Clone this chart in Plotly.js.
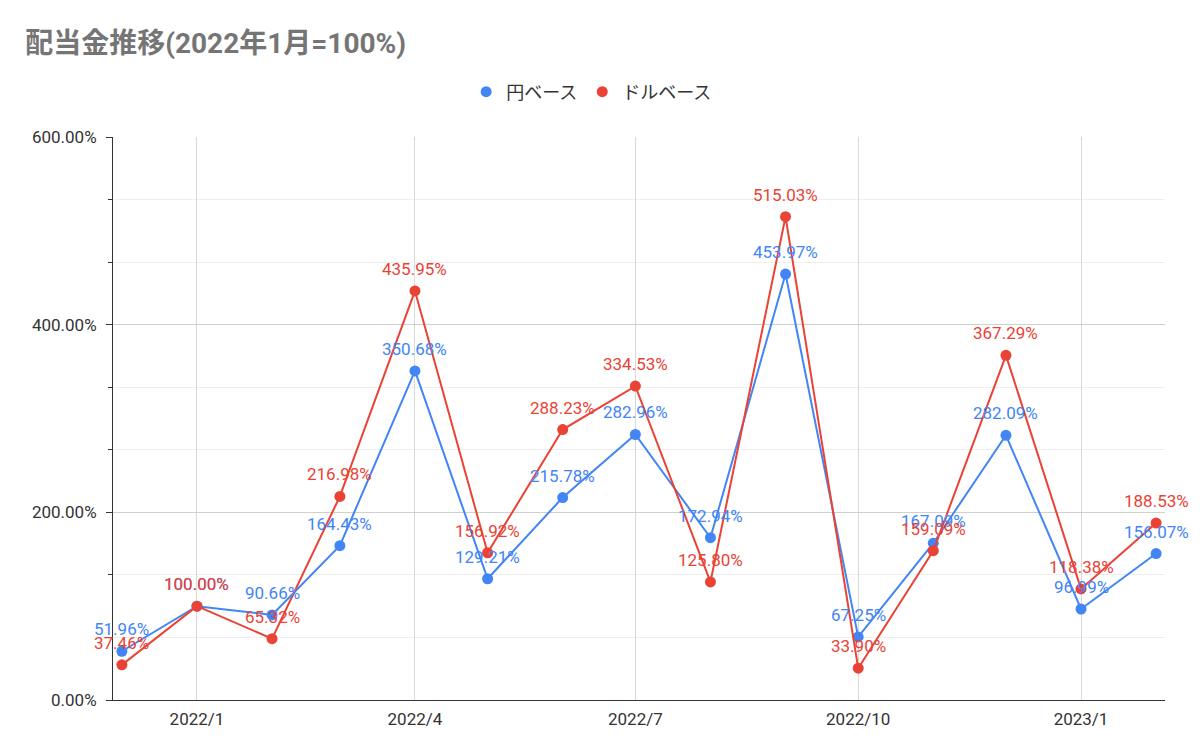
<!DOCTYPE html>
<html>
<head>
<meta charset="utf-8">
<script src="https://cdn.plot.ly/plotly-3.0.1.min.js"></script>
<style>
  html, body { margin: 0; padding: 0; background: #fff; }
  #chart { width: 1200px; height: 755px; }
</style>
</head>
<body>
<div id="chart"></div>
<script>
// months, one point per month
const months = ['2021-12-01','2022-01-01','2022-02-01','2022-03-01','2022-04-01','2022-05-01',
  '2022-06-01','2022-07-01','2022-08-01','2022-09-01','2022-10-01','2022-11-01',
  '2022-12-01','2023-01-01','2023-02-01'];
// dividends relative to 2022/1 (percent)
const yenBase = [51.96, 100.00, 90.66, 164.43, 350.68, 129.21, 215.78, 282.96,
  172.94, 453.97, 67.25, 167.09, 282.09, 96.99, 156.07];
const usdBase = [37.46, 100.00, 65.32, 216.98, 435.95, 156.92, 288.23, 334.53,
  125.80, 515.03, 33.90, 159.09, 367.29, 118.38, 188.53];
const xTickVals = ['2022-01-01','2022-04-01','2022-07-01','2022-10-01','2023-01-01'];
const xTickText = ['2022/1','2022/4','2022/7','2022/10','2023/1'];

const FONT = 'Roboto, "Noto Sans CJK JP", Arial, sans-serif';
const BLUE = '#4285F4';
const RED = '#EA4335';
const TEXT = '#333';

function trace(name, ys, color) {
  return {
    x: months,
    y: ys,
    name: name,
    type: 'scatter',
    mode: 'lines+markers',
    line: {color: color, width: 2},
    marker: {color: color, size: 11},
    cliponaxis: false,
    showlegend: false,
    hoverinfo: 'skip'
  };
}

// legend entries: dot only, like the original
function legendEntry(name, color) {
  return {
    x: [null], y: [null],
    name: name,
    type: 'scatter',
    mode: 'markers',
    marker: {color: color, size: 11},
    hoverinfo: 'skip'
  };
}

// value labels sit a bit above each point
function labels(ys, color) {
  return ys.map((v, i) => ({
    x: months[i],
    y: v,
    xref: 'x', yref: 'y',
    text: v.toFixed(2) + '%',
    showarrow: false,
    yshift: 22,
    font: {family: FONT, size: 17, color: color}
  }));
}

const data = [
  trace('円ベース', yenBase, BLUE),
  trace('ドルベース', usdBase, RED),
  legendEntry('円ベース', BLUE),
  legendEntry('ドルベース', RED)
];

const layout = {
  width: 1200,
  height: 755,
  margin: {l: 113, r: 35, t: 137, b: 55},
  paper_bgcolor: '#fff',
  plot_bgcolor: '#fff',
  font: {family: FONT, size: 17, color: TEXT},
  title: {
    text: '<b>配当金推移(2022年1月=100%)</b>',
    font: {family: FONT, size: 28, color: '#757575'},
    x: 0.021, xanchor: 'left',
    y: 0.943, yanchor: 'middle'
  },
  showlegend: true,
  legend: {
    orientation: 'h',
    x: 0.455, xanchor: 'center',
    y: 1.08, yanchor: 'middle',
    font: {family: FONT, size: 18, color: TEXT},
    itemwidth: 30,
    tracegroupgap: 0
  },
  annotations: labels(yenBase, BLUE).concat(labels(usdBase, RED)),
  xaxis: {
    type: 'date',
    range: ['2021-11-27 08:00', '2023-02-04 16:00'],
    tickvals: xTickVals,
    ticktext: xTickText,
    showgrid: true,
    gridcolor: '#d9d9d9',
    gridwidth: 1,
    showline: true,
    linecolor: '#333',
    linewidth: 1,
    ticks: '',
    ticklabelstandoff: 4,
    zeroline: false,
    tickfont: {family: FONT, size: 17, color: TEXT}
  },
  yaxis: {
    range: [0, 600],
    tick0: 0,
    dtick: 200,
    ticksuffix: '%',
    tickformat: '.2f',
    showgrid: true,
    gridcolor: '#d0d0d0',
    showline: true,
    linecolor: '#333',
    linewidth: 1,
    ticks: 'outside',
    ticklen: 6,
    tickcolor: '#333',
    ticklabelstandoff: 6,
    zeroline: false,
    tickfont: {family: FONT, size: 17, color: TEXT},
    minor: {
      dtick: 200 / 3,
      showgrid: true,
      gridcolor: '#eeeeee',
      ticks: 'outside',
      ticklen: 4,
      tickcolor: '#333'
    }
  }
};

Plotly.newPlot('chart', data, layout, {displayModeBar: false, staticPlot: true});
</script>
</body>
</html>
